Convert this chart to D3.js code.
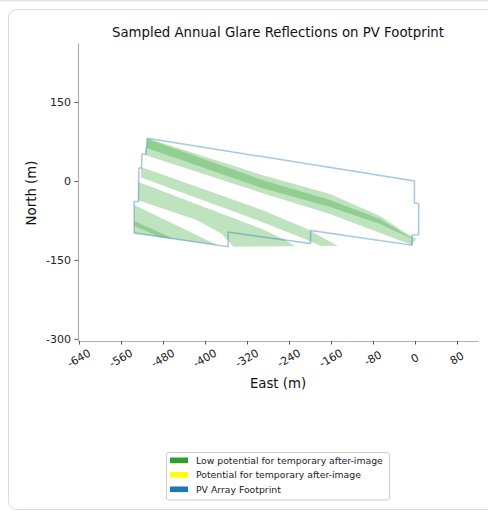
<!DOCTYPE html>
<html><head><meta charset="utf-8">
<script src="https://cdn.jsdelivr.net/npm/d3@7"></script>
<style>
body{margin:0;background:#fff;}
svg{display:block;font-family:"DejaVu Sans",sans-serif;}
</style>
</head><body>
<svg id="chart" width="488" height="512"></svg>
<script>
// ---- data ----
const xTicks = [-640, -560, -480, -400, -320, -240, -160, -80, 0, 80];
const yTicks = [150, 0, -150, -300];
const xDomain = [-642, 120];
const yDomain = [-304, 262];

// PV array footprint outline (East, North in metres)
const footprint = [
  [-510, 81], [-1, 0], [-1, -42], [7, -43], [7, -102], [-6, -103], [-6, -122],
  [-199, -94], [-199, -119], [-356, -97], [-356, -125], [-535, -99], [-535, -39],
  [-527, -39], [-526, 24], [-521, 25], [-520, 51], [-513, 51]
];

// sampled glare reflection bands (low potential for temporary after-image)
const bandA  = [[-509.5, 81], [-291.4, 11.3], [-161.9, -24.8], [-66.7, -66.6], [-11.4, -102.7],
                [9.5, -112.5], [9.5, -131], [-5.7, -121.7], [-161.9, -62.8], [-291.4, -22.9],
                [-514.3, 49.3]];
const bandA2 = [[-509.5, 79.7], [-291.4, 1.8], [-161.9, -36.2], [-66.7, -72.3], [-13.3, -104.6],
                [-7.6, -107.5], [-9.5, -108.4], [-66.7, -81.8], [-161.9, -49.5], [-291.4, -13.4],
                [-510.5, 62.6]];
const bandB  = [[-521.9, 26.5], [-291.4, -55.2], [-209.5, -89.4], [-125.7, -134.9], [-152.4, -134.9],
                [-219.0, -106.5], [-291.4, -78.0], [-521.9, 6.7]];
const bandC  = [[-526.7, -2.0], [-291.4, -91.3], [-247.6, -112.2], [-211.4, -134.9], [-337.1, -134.9],
                [-367.6, -100.8], [-415.8, -74.2], [-527.6, -36.8]];
const bandD  = [[-534.7, -45.6], [-333.3, -142.6], [-534.7, -142.6]];
const bandD2 = [[-534.7, -76.1], [-455.2, -112.2], [-455.2, -119.8], [-534.7, -85.6]];
const lowBands = [bandA, bandA2, bandB, bandC, bandD, bandD2];

const legendLabels = ["Low potential for temporary after-image", "Potential for temporary after-image", "PV Array Footprint"];
const legendColors = ["#2ca02c", "#ffff00", "#1f77b4"];

const titleText = "Sampled Annual Glare Reflections on PV Footprint";
const xLabel = "East (m)";
const yLabel = "North (m)";

// ---- drawing ----
const svg = d3.select("#chart");
svg.append("rect").attr("x", 0).attr("y", 0).attr("width", 488).attr("height", 1.5).attr("fill", "#e6e6e6");
svg.append("rect").attr("x", 8.5).attr("y", 9.5).attr("width", 500).attr("height", 500)
  .attr("rx", 8).attr("fill", "#fff").attr("stroke", "#dcdcdc");

const x = d3.scaleLinear().domain(xDomain).range([78, 478]);
const y = d3.scaleLinear().domain(yDomain).range([341, 43]);

const line = d3.line().x(d => x(d[0])).y(d => y(d[1])).curve(d3.curveLinearClosed);

// reflections are sampled inside the footprint's convex hull
const hull = d3.polygonHull(footprint);
svg.append("defs").append("clipPath").attr("id", "hull").append("path").attr("d", line(hull));

const gBands = svg.append("g").attr("clip-path", "url(#hull)");
gBands.selectAll("path").data(lowBands).join("path")
  .attr("d", line).attr("fill", legendColors[0]).attr("fill-opacity", 0.3).attr("stroke", "none");

svg.append("path").datum(footprint).attr("d", line)
  .attr("fill", "none").attr("stroke", legendColors[2]).attr("stroke-opacity", 0.4)
  .attr("stroke-width", 1.5).attr("stroke-linejoin", "miter");

// axes
const fmt = d => String(d);
const gx = svg.append("g").attr("transform", "translate(0,341)")
  .call(d3.axisBottom(x).tickValues(xTicks).tickFormat(fmt).tickSize(3.5).tickSizeOuter(0));
const gy = svg.append("g").attr("transform", "translate(78,0)")
  .call(d3.axisLeft(y).tickValues(yTicks).tickFormat(fmt).tickSize(3.5).tickSizeOuter(0).tickPadding(3.5));

[gx, gy].forEach(g => {
  g.select(".domain").attr("stroke", "#b0b0b0").attr("stroke-width", 1.2);
  g.selectAll(".tick line").attr("stroke", "#555");
  g.selectAll(".tick text").attr("fill", "#222").style("font-size", "11px").style("font-family", "DejaVu Sans");
});
gx.selectAll(".tick text")
  .attr("y", 0).attr("dy", null)
  .attr("dominant-baseline", "central")
  .attr("text-anchor", "middle")
  .attr("transform", "translate(-0.5,17.5) rotate(-30)");
gy.selectAll(".tick text").attr("dominant-baseline", "central").attr("dy", null);

// titles
svg.append("text").attr("x", 278).attr("y", 37).attr("text-anchor", "middle")
  .style("font-size", "13.3px").attr("fill", "#111").text(titleText);
svg.append("text").attr("x", 278).attr("y", 383.5).attr("text-anchor", "middle")
  .attr("dominant-baseline", "central").style("font-size", "13.3px").attr("fill", "#111").text(xLabel);
svg.append("text").attr("transform", "translate(31.5,193) rotate(-90)").attr("text-anchor", "middle")
  .attr("dominant-baseline", "central").style("font-size", "13.3px").attr("fill", "#111").text(yLabel);

// legend
const lg = svg.append("g");
lg.append("rect").attr("x", 166.5).attr("y", 452.5).attr("width", 223).attr("height", 47.5)
  .attr("rx", 2).attr("fill", "#fff").attr("stroke", "#cccccc");
const rows = lg.selectAll("g.row").data(legendLabels).join("g").attr("class", "row")
  .attr("transform", (d, i) => `translate(0,${460.3 + i * 14.5})`);
rows.append("rect").attr("x", 170).attr("y", -2.8).attr("width", 18).attr("height", 5.6)
  .attr("fill", (d, i) => legendColors[i]);
rows.append("text").attr("x", 196).attr("y", 0).attr("dominant-baseline", "central")
  .style("font-size", "9.3px").attr("fill", "#222").text(d => d);
</script>
</body></html>
